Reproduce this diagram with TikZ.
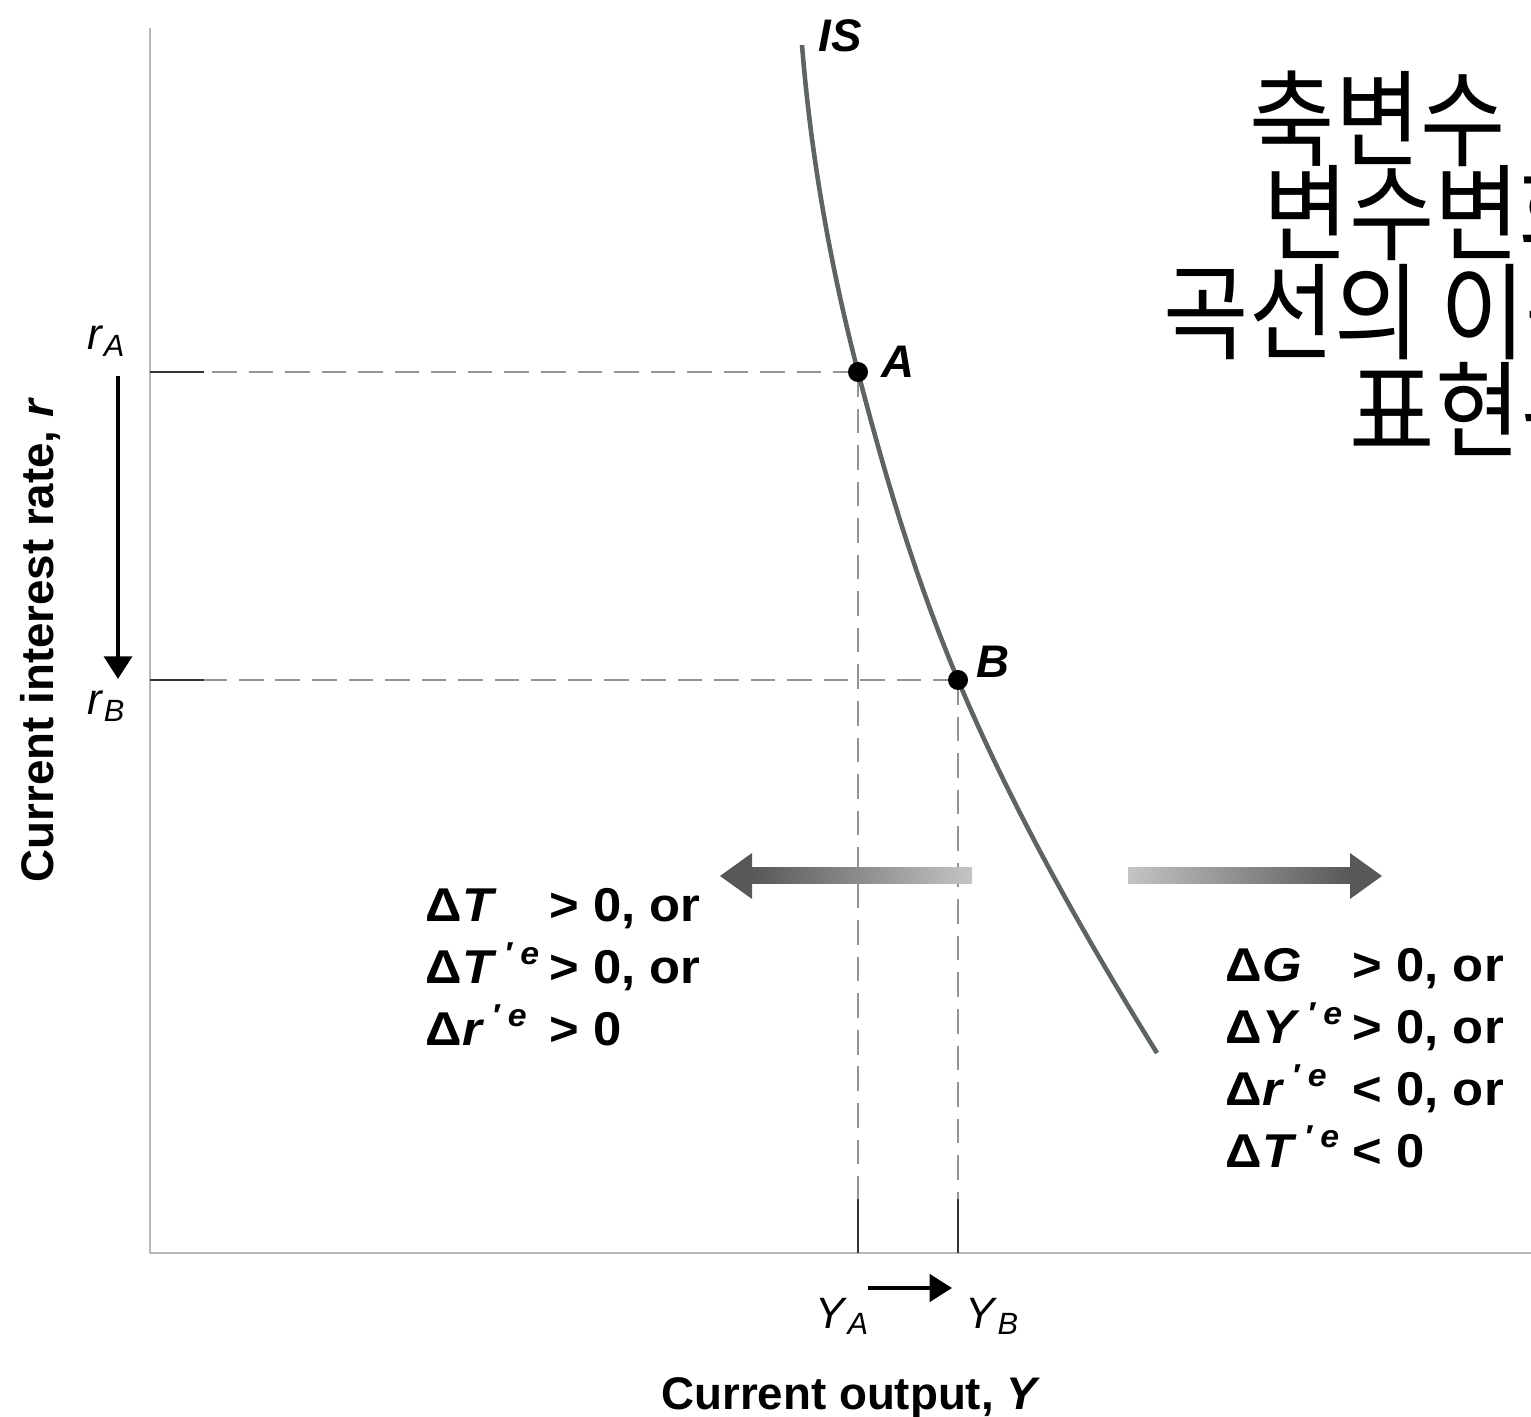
\documentclass[tikz,border=0pt]{standalone}
\usepackage{fontspec}
\setmainfont{Liberation Sans}
\newfontfamily\condfont[FakeStretch=1.07]{Liberation Sans}
\newfontfamily\cjk[FakeStretch=0.88]{Noto Sans CJK KR}
\usetikzlibrary{arrows.meta}
\definecolor{curvegray}{HTML}{5E6460}
\definecolor{shiftdark}{HTML}{585858}
\definecolor{shiftlight}{HTML}{C4C4C4}
\newcommand{\expt}[1]{\hspace{2pt}\raisebox{5.6pt}{\fontsize{9}{9}\selectfont\textit{′\hspace{2.4pt}#1}}}

\begin{document}
\begin{tikzpicture}[x=0.1mm, y=-0.1mm, line join=round,
    axis/.style={draw=black!28, line width=0.85pt},
    guide/.style={draw=black!42, line width=0.6pt, dash pattern=on 7pt off 3.4pt},
    tickmark/.style={draw=black!80, line width=0.6pt},
    move/.style={line width=1.3pt, -{Triangle[width=7.8pt, length=6.4pt]}},
    lbl/.style={font=\fontsize{13}{15}\selectfont\bfseries\itshape, inner sep=0pt},
    sym/.style={font=\fontsize{12.5}{15}\selectfont, inner sep=0pt, anchor=base west},
    block/.style={font=\condfont\fontsize{13.5}{17.6}\selectfont\bfseries, inner sep=0pt, anchor=base west},
    note/.style={font=\cjk\fontsize{30}{32}\selectfont, inner sep=0pt, anchor=base west,
        text height=21pt, text depth=3pt}]

    % page size of the reference (1px = 0.1mm, y downwards)
    \useasboundingbox (0,0) rectangle (1531,1417);

    \coordinate (O) at (150,1253);
    \coordinate (A) at (858,372);
    \coordinate (B) at (958,680);

    % axes
    \draw[axis] (150,28) -- (O) -- (1531,1253);

    % guide lines from A and B to the axes
    \draw[guide] (A) -- (A -| O);
    \draw[guide] (B) -- (B -| O);
    \draw[guide] (A) -- (A |- O);
    \draw[guide] (B) -- (B |- O);
    \draw[tickmark] (A -| O) -- ++(54,0);
    \draw[tickmark] (B -| O) -- ++(54,0);
    \draw[tickmark] (A |- O) -- ++(0,-54);
    \draw[tickmark] (B |- O) -- ++(0,-54);

    % IS curve
    \draw[draw=curvegray, line width=1.3pt] (802,45)
        .. controls (810.7,154) and (829.7,263) .. (A)
        .. controls (884.8,475) and (914.7,577) .. (B)
        .. controls (1010,804) and (1080,929) .. (1157,1053);
    \node[lbl] (IS) at (840,36) {IS};

    % points A and B
    \fill (A) circle (1mm);
    \fill (B) circle (1mm);
    \node[lbl] (Alab) at (898,362) {A};
    \node[lbl] (Blab) at (993,662) {B};

    % interest rate fall
    \node[sym] (rA) at (87,350) {\textit{r}\textsubscript{\textit{A}}};
    \node[sym] (rB) at (87,715) {\textit{r}\textsubscript{\textit{B}}};
    \coordinate (rtop) at (118,376);
    \coordinate (rbot) at (118,679);
    \draw[move] (rtop) -- (rbot);

    % output rise
    \node[sym] (YA) at (815,1328) {\textit{Y}\textsubscript{\textit{A}}};
    \node[sym] (YB) at (965,1328) {\textit{Y}\textsubscript{\textit{B}}};
    \coordinate (yleft) at (868,1288);
    \coordinate (yright) at (952,1288);
    \draw[move, line width=1.1pt] (yleft) -- (yright);

    % axis titles
    \node[font=\fontsize{13}{15}\selectfont\bfseries, anchor=base] (xt) at (851,1409)
        {Current output, \textit{Y}};
    \node[font=\fontsize{13}{15}\selectfont\bfseries, rotate=90] (yt) at (40,640)
        {Current interest rate, \textit{r}};

    % shifts of the IS curve
    \shade[left color=shiftdark, right color=shiftlight] (752,868) rectangle (972,884);
    \fill[shiftdark] (752,853) -- (720,876) -- (752,899) -- cycle;
    \shade[left color=shiftlight, right color=shiftdark] (1128,868) rectangle (1350,884);
    \fill[shiftdark] (1350,853) -- (1382,876) -- (1350,899) -- cycle;

    \node[block] (left) at (425,922) {\begin{tabular}[t]{@{}l@{\hspace{3pt}}l@{}}
        Δ\textit{T} & > 0, or\\
        Δ\textit{T}\expt{e} & > 0, or\\
        Δ\textit{r}\expt{e} & > 0
    \end{tabular}};
    \node[block] (right) at (1225,982) {\begin{tabular}[t]{@{}l@{\hspace{3pt}}l@{}}
        Δ\textit{G} & > 0, or\\
        Δ\textit{Y}\expt{e} & > 0, or\\
        Δ\textit{r}\expt{e} & < 0, or\\
        Δ\textit{T}\expt{e} & < 0
    \end{tabular}};

    % note, cut off by the right edge
    \node[note] (k1) at (1249,159) {축변수};
    \node[note] (k2) at (1263,253) {변수변화};
    \node[note] (k3) at (1163,352) {곡선의 이동};
    \node[note] (k4) at (1349,450) {표현된};

\end{tikzpicture}
\end{document}
